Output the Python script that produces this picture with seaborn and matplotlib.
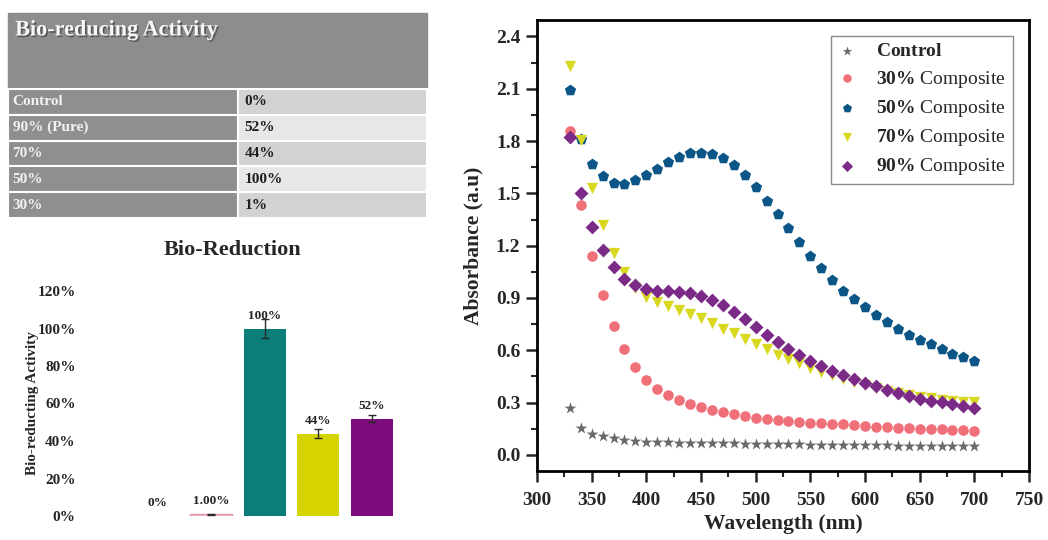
import matplotlib
matplotlib.use("Agg")
import matplotlib.pyplot as plt
import matplotlib.patheffects as pe
from matplotlib.ticker import MultipleLocator
import pandas as pd
import seaborn as sns

# ---- table (top left) ----
table_title = "Bio-reducing Activity"
table_rows = ["Control", "90% (Pure)", "70%", "50%", "30%"]
table_vals = ["0%", "52%", "44%", "100%", "1%"]

# ---- bar chart (bottom left) ----
bar_title = "Bio-Reduction"
bar_groups = ["Control", "30%", "50%", "70%", "90%"]
bar_values = [0.0, 0.01, 1.00, 0.44, 0.52]
bar_errors = [0.0, 0.003, 0.05, 0.022, 0.02]
bar_labels = ["0%", "1.00%", "100%", "44%", "52%"]
bar_ticks = [0.0, 0.2, 0.4, 0.6, 0.8, 1.0, 1.2]
bar_ticklabels = ["0%", "20%", "40%", "60%", "80%", "100%", "120%"]

# ---- UV-vis spectra (right) ----
wavelength = [330, 340, 350, 360, 370, 380, 390, 400, 410, 420, 430, 440, 450,
              460, 470, 480, 490, 500, 510, 520, 530, 540, 550, 560, 570, 580,
              590, 600, 610, 620, 630, 640, 650, 660, 670, 680, 690, 700]
control = [0.268, 0.155, 0.123, 0.110, 0.095, 0.086, 0.080, 0.076, 0.074, 0.072,
           0.071, 0.070, 0.069, 0.068, 0.067, 0.066, 0.065, 0.064, 0.063, 0.062,
           0.061, 0.060, 0.059, 0.058, 0.058, 0.057, 0.056, 0.056, 0.055, 0.055,
           0.054, 0.054, 0.053, 0.053, 0.052, 0.052, 0.051, 0.051]
comp30 = [1.855, 1.432, 1.141, 0.916, 0.738, 0.605, 0.502, 0.432, 0.377, 0.343,
          0.317, 0.294, 0.274, 0.258, 0.246, 0.232, 0.224, 0.214, 0.206, 0.200,
          0.196, 0.190, 0.186, 0.182, 0.179, 0.175, 0.171, 0.167, 0.163, 0.160,
          0.157, 0.154, 0.151, 0.148, 0.146, 0.143, 0.141, 0.139]
comp50 = [2.093, 1.810, 1.666, 1.597, 1.557, 1.553, 1.577, 1.603, 1.642, 1.682,
          1.706, 1.730, 1.734, 1.726, 1.702, 1.662, 1.607, 1.537, 1.458, 1.379,
          1.299, 1.220, 1.141, 1.071, 1.002, 0.942, 0.893, 0.849, 0.803, 0.764,
          0.724, 0.690, 0.659, 0.635, 0.605, 0.581, 0.559, 0.536]
comp70 = [2.232, 1.805, 1.531, 1.319, 1.160, 1.051, 0.960, 0.908, 0.879, 0.853,
          0.833, 0.809, 0.784, 0.754, 0.724, 0.698, 0.665, 0.635, 0.605, 0.575,
          0.552, 0.526, 0.500, 0.476, 0.456, 0.436, 0.417, 0.401, 0.385, 0.369,
          0.357, 0.345, 0.335, 0.325, 0.317, 0.311, 0.305, 0.301]
comp90 = [1.825, 1.504, 1.305, 1.174, 1.075, 1.008, 0.972, 0.952, 0.942, 0.940,
          0.936, 0.926, 0.912, 0.889, 0.857, 0.817, 0.778, 0.734, 0.690, 0.645,
          0.605, 0.571, 0.540, 0.512, 0.484, 0.460, 0.436, 0.413, 0.393, 0.373,
          0.353, 0.337, 0.323, 0.311, 0.301, 0.292, 0.282, 0.272]
series_names = ["Control", "30% Composite", "50% Composite", "70% Composite", "90% Composite"]

W, H = 1048, 540

sns.set_style("white")
plt.rcParams.update({
    "font.family": "serif",
    "font.serif": ["Liberation Serif", "DejaVu Serif"],
    "mathtext.fontset": "custom",
    "mathtext.rm": "Liberation Serif",
    "mathtext.bf": "Liberation Serif:bold",
    "mathtext.it": "Liberation Serif:italic",
})


def px_axes(fig, x0, y0, x1, y1):
    # pixel box (top-left origin) -> figure axes
    return fig.add_axes([x0 / W, 1 - y1 / H, (x1 - x0) / W, (y1 - y0) / H])


fig = plt.figure(figsize=(W / 100, H / 100), dpi=100)

# ---------------- table ----------------
ax_t = px_axes(fig, 8, 13, 427, 218)
ax_t.set_xlim(0, 1)
ax_t.set_ylim(0, 1)
ax_t.axis("off")
head = ax_t.table(cellText=[[""]], cellColours=[["#8d8d8d"]],
                  bbox=[0, 130 / 205, 1, 75 / 205])
head[0, 0].set_edgecolor("#8d8d8d")
ax_t.text(0.017, 0.915, table_title, transform=ax_t.transAxes, ha="left", va="center",
          fontsize=16, fontweight="bold", color="#f7f7f7",
          path_effects=[pe.SimplePatchShadow(offset=(1.2, -1.2), shadow_rgbFace="#4a4a4a", alpha=0.8),
                        pe.Normal()])

right_cols = ["#d2d2d2", "#e7e7e7"]
cell_colours = [["#8f8f8f", right_cols[i % 2]] for i in range(len(table_rows))]
body = ax_t.table(cellText=[[r, v] for r, v in zip(table_rows, table_vals)],
                  cellColours=cell_colours, cellLoc="left",
                  colWidths=[0.549, 0.451], bbox=[0, 0, 1, 129 / 205])
body.auto_set_font_size(False)
body.set_fontsize(11)
for (r, c), cell in body.get_celld().items():
    cell.set_edgecolor("white")
    cell.set_linewidth(1.5)
    cell.PAD = 0.02 if c == 0 else 0.035
    txt = cell.get_text()
    txt.set_fontweight("bold")
    txt.set_color("#f2f2f2" if c == 0 else "#1e1e1e")

# ---------------- bar chart ----------------
ax_b = px_axes(fig, 79.8, 291, 398.7, 516)
bar_colors = ["#ffffff", "#f6c0cb", "#0b7e79", "#d6d400", "#7e0c7e"]
df_bar = pd.DataFrame({"group": bar_groups, "value": bar_values})
sns.barplot(data=df_bar, x="group", y="value", hue="group", palette=bar_colors,
            legend=False, width=0.78, ax=ax_b, saturation=1, linewidth=0)
ax_b.patches[1].set_edgecolor("#e995a8")
ax_b.patches[1].set_linewidth(1.0)
idx = [i for i, e in enumerate(bar_errors) if e > 0]
ax_b.errorbar(idx, [bar_values[i] for i in idx], yerr=[bar_errors[i] for i in idx],
              fmt="none", ecolor="#2a2a2a", elinewidth=1, capsize=3, capthick=1)
for i, (v, lbl) in enumerate(zip(bar_values, bar_labels)):
    ax_b.annotate(lbl, (i, v), xytext=(0, 5), textcoords="offset points",
                  ha="center", va="bottom", fontsize=9.5, fontweight="bold", color="#222")
ax_b.set_xlim(-1.45, 4.5)
ax_b.set_ylim(0, 1.2)
ax_b.set_yticks(bar_ticks)
ax_b.set_yticklabels(bar_ticklabels)
ax_b.set_xticks([])
ax_b.set_xlabel("")
ax_b.set_ylabel("Bio-reducting Activity", fontsize=11, fontweight="bold")
ax_b.yaxis.set_label_coords(-0.128, 0.5)
ax_b.tick_params(axis="y", length=0, pad=3, labelsize=11)
for t in ax_b.get_yticklabels():
    t.set_fontweight("bold")
for s in ax_b.spines.values():
    s.set_visible(False)
fig.text(232 / W, 1 - 250 / H, bar_title, ha="center", va="center",
         fontsize=16, fontweight="bold")

# ---------------- spectra ----------------
ax = px_axes(fig, 537, 20, 1029, 471)
series = [control, comp30, comp50, comp70, comp90]
markers = ["*", "o", "p", "v", "D"]
colors = ["#6a6a6a", "#f07079", "#0c5687", "#d8d820", "#7b2a88"]
sizes = [80, 58, 72, 66, 50]
for name, vals, m, c, s in zip(series_names, series, markers, colors, sizes):
    first, rest = name.split(" ", 1) if " " in name else (name, "")
    label = r"$\mathbf{" + first.replace("%", r"\%") + "}$" + (" " + rest if rest else "")
    sns.scatterplot(x=wavelength, y=vals, marker=m, color=c, s=s, linewidth=0,
                    ax=ax, label=label)

ax.set_xlim(300, 750)
ax.set_ylim(-0.092, 2.494)
ax.xaxis.set_major_locator(MultipleLocator(50))
ax.xaxis.set_minor_locator(MultipleLocator(25))
ax.yaxis.set_major_locator(MultipleLocator(0.3))
ax.yaxis.set_minor_locator(MultipleLocator(0.15))
ax.yaxis.set_major_formatter(plt.FormatStrFormatter("%.1f"))
ax.tick_params(axis="both", which="major", direction="out", length=8, width=1.8,
               labelsize=14, bottom=True, left=True, top=False, right=False)
ax.tick_params(axis="both", which="minor", direction="out", length=4.5, width=1.5,
               bottom=True, left=True, top=False, right=False)
ax.tick_params(axis="x", which="major", pad=7)
ax.tick_params(axis="y", which="major", pad=4)
for t in ax.get_xticklabels() + ax.get_yticklabels():
    t.set_fontweight("bold")
for s in ax.spines.values():
    s.set_visible(True)
    s.set_linewidth(2)
    s.set_color("black")
ax.set_xlabel("Wavelength (nm)", fontsize=15.5, fontweight="bold")
ax.set_ylabel("Absorbance (a.u)", fontsize=15.5, fontweight="bold")
ax.xaxis.set_label_coords(0.5, -0.095)
ax.yaxis.set_label_coords(-0.108, 0.5)

leg = ax.legend(loc="upper right", bbox_to_anchor=(0.9675, 0.9645), borderaxespad=0,
                frameon=True, fancybox=False, framealpha=1, edgecolor="#8a8a8a",
                fontsize=14, handlelength=1.0, handletextpad=1.0, borderpad=0.35,
                labelspacing=0.42, markerscale=0.8)
leg.get_frame().set_linewidth(1.0)

fig.savefig("out.png", dpi=100)
